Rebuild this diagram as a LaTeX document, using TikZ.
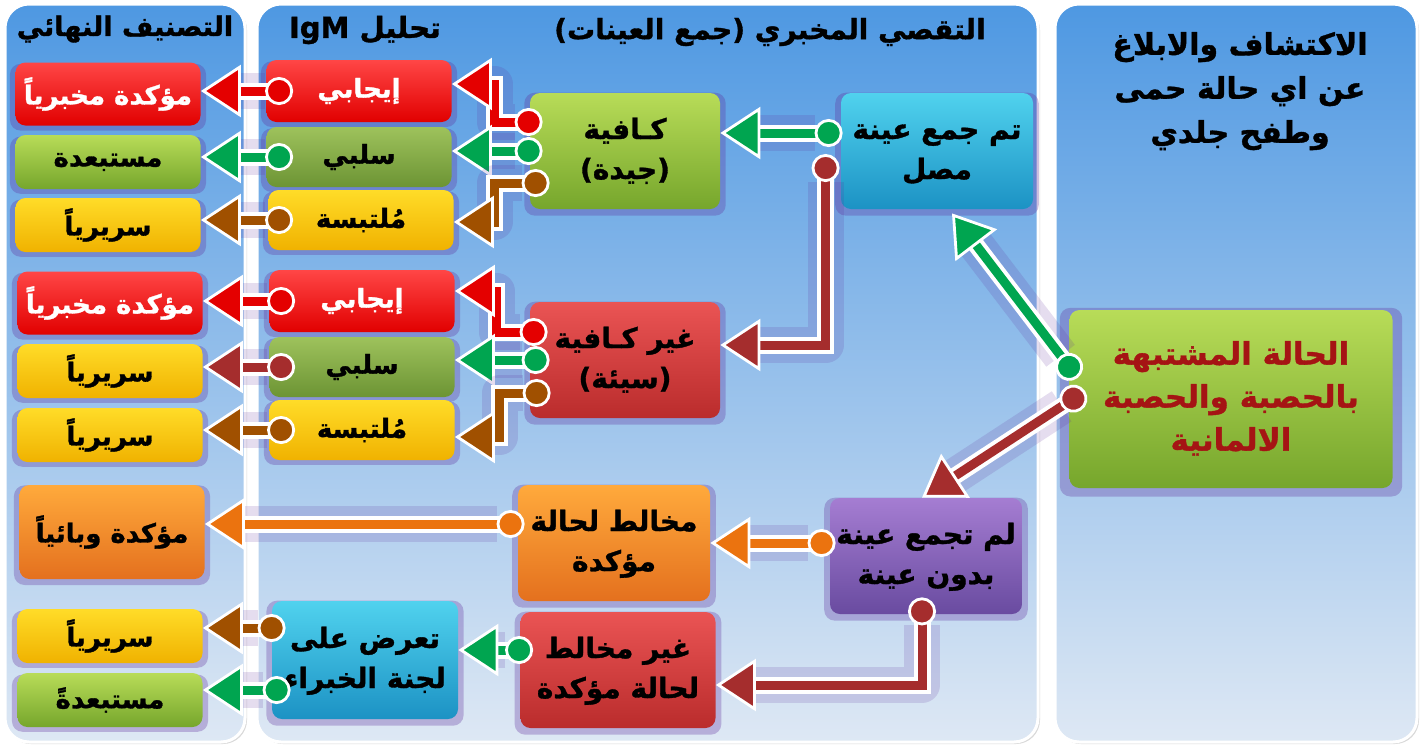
\documentclass[tikz,border=0pt]{standalone}
\usepackage{fontspec}
\usetikzlibrary{arrows.meta,shadows,calc}
\newfontfamily\arfont[Script=Arabic, BoldFeatures={FakeBold=1.2}]{DejaVu Sans}
\TeXXeTstate=1
\newcommand\ar[1]{\leavevmode\hbox{\beginR #1\endR}}
\newcommand\arlines[1]{\begin{tabular}{@{}c@{}}#1\end{tabular}}

\definecolor{panelTop}{RGB}{78,152,226}
\definecolor{panelBot}{RGB}{222,232,244}
\definecolor{glow}{RGB}{95,45,155}
\definecolor{redTop}{RGB}{255,70,70}
\definecolor{redBot}{RGB}{225,0,0}
\definecolor{grnTop}{RGB}{184,220,88}
\definecolor{grnBot}{RGB}{118,166,44}
\definecolor{olvTop}{RGB}{158,194,92}
\definecolor{olvBot}{RGB}{108,148,52}
\definecolor{ylwTop}{RGB}{255,220,40}
\definecolor{ylwBot}{RGB}{240,178,0}
\definecolor{orgTop}{RGB}{255,170,60}
\definecolor{orgBot}{RGB}{228,112,30}
\definecolor{cynTop}{RGB}{80,210,238}
\definecolor{cynBot}{RGB}{28,146,196}
\definecolor{prpTop}{RGB}{165,125,210}
\definecolor{prpBot}{RGB}{105,75,160}
\definecolor{dkrTop}{RGB}{234,84,84}
\definecolor{dkrBot}{RGB}{186,44,44}
\definecolor{lnRed}{RGB}{228,0,0}
\definecolor{lnGreen}{RGB}{0,165,80}
\definecolor{lnBrown}{RGB}{160,80,0}
\definecolor{lnMaroon}{RGB}{165,45,45}
\definecolor{lnOrange}{RGB}{235,115,15}
\definecolor{txtRed}{RGB}{165,20,20}

\begin{document}
\begin{tikzpicture}[x=0.5pt, y=-0.5pt,
    panel/.style={rounded corners=12pt, draw=white, line width=1.5pt, top color=panelTop, bottom color=panelBot, drop shadow={shadow xshift=1pt, shadow yshift=-1pt, opacity=.3}},
    title/.style={font=\arfont\bfseries\fontsize{14.5}{21}\selectfont},
    box/.style={rounded corners=5pt, inner sep=1pt, font=\arfont\bfseries\fontsize{13}{16}\selectfont, drop shadow={shadow xshift=0pt, shadow yshift=-1.5pt, shadow scale=1.06, fill=glow, opacity=.3}},
    cell/.style={box, minimum width=92.5pt, minimum height=27pt},
    block/.style={box, minimum width=95pt, minimum height=58pt, font=\arfont\bfseries\fontsize{14}{20}\selectfont},
    red fill/.style={top color=redTop, bottom color=redBot, text=white},
    green fill/.style={top color=grnTop, bottom color=grnBot},
    olive fill/.style={top color=olvTop, bottom color=olvBot},
    yellow fill/.style={top color=ylwTop, bottom color=ylwBot},
    orange fill/.style={top color=orgTop, bottom color=orgBot},
    cyan fill/.style={top color=cynTop, bottom color=cynBot},
    purple fill/.style={top color=prpTop, bottom color=prpBot},
    dark fill/.style={top color=dkrTop, bottom color=dkrBot},
    link/.style={draw=#1, line width=4.5pt,
        {Circle[length=14pt, fill=#1, color=white, line width=1.4pt]}-{Triangle[length=20pt, width=26pt, fill=#1, color=white, line width=1.4pt]},
        preaction={draw=glow, opacity=.16, line width=18pt, line join=round, shorten <=14pt, shorten >=18pt, -},
        preaction={draw=white, line width=8.5pt, shorten <=6pt, shorten >=9pt, -}}
  ]
    \useasboundingbox (0,0) rectangle (1421,745);

    \draw[panel] (5,4) rectangle (245,742);
    \draw[panel] (257,4) rectangle (1038,742);
    \draw[panel] (1055,4) rectangle (1417,742);

    \node[title, font=\arfont\bfseries\fontsize{13.5}{20}\selectfont] (tFinal) at (125,29) {\ar{التصنيف النهائي}};
    \node[title] (tIgM) at (365,30) {\ar{تحليل \beginL IgM\endL}};
    \node[title, font=\arfont\bfseries\fontsize{14}{20}\selectfont] (tLab) at (770,32) {\ar{التقصي المخبري (جمع العينات)}};
    \node[title, font=\arfont\bfseries\fontsize{15}{22}\selectfont] (tDetect) at (1240,90)
        {\arlines{\ar{الاكتشاف والابلاغ}\\\ar{عن اي حالة حمى}\\\ar{وطفح جلدي}}};

    % final classification
    \node[cell, red fill, minimum height=31.5pt] (F1) at (108,94) {\ar{مؤكدة مخبرياً}};
    \node[cell, green fill] (F2) at (108,162) {\ar{مستبعدة}};
    \node[cell, yellow fill] (F3) at (108,225) {\ar{سريرياً}};
    \node[cell, red fill, minimum height=31.5pt] (F4) at (110,303) {\ar{مؤكدة مخبرياً}};
    \node[cell, yellow fill] (F5) at (110,371) {\ar{سريرياً}};
    \node[cell, yellow fill] (F6) at (110,435) {\ar{سريرياً}};
    \node[cell, orange fill, minimum height=47pt] (F7) at (112,532) {\ar{مؤكدة وبائياً}};
    \node[cell, yellow fill] (F8) at (110,636) {\ar{سريرياً}};
    \node[cell, green fill] (F9) at (110,700) {\ar{مستبعدةً}};

    % IgM
    \node[cell, red fill, minimum height=31pt] (I1) at (359,91) {\ar{إيجابي}};
    \node[cell, olive fill, minimum height=30pt] (I2) at (359,157) {\ar{سلبي}};
    \node[cell, yellow fill, minimum height=30pt] (I3) at (361,220) {\ar{مُلتبسة}};
    \node[cell, red fill, minimum height=31pt] (I4) at (362,301) {\ar{إيجابي}};
    \node[cell, olive fill, minimum height=30pt] (I5) at (362,367) {\ar{سلبي}};
    \node[cell, yellow fill, minimum height=30pt] (I6) at (362,430) {\ar{مُلتبسة}};
    \node[block, cyan fill, minimum width=93pt, minimum height=59pt] (E1) at (365,660) {\arlines{\ar{تعرض على}\\\ar{لجنة الخبراء}}};

    % samples
    \node[block, green fill] (S1) at (625,151) {\arlines{\ar{كـافية}\\\ar{(جيدة)}}};
    \node[block, dark fill] (S2) at (625,360) {\arlines{\ar{غير كـافية}\\\ar{(سيئة)}}};
    \node[block, orange fill, minimum width=96pt] (C1) at (614,543) {\arlines{\ar{مخالط لحالة}\\\ar{مؤكدة}}};
    \node[block, dark fill, minimum width=97.5pt] (C2) at (618,670) {\arlines{\ar{غير مخالط}\\\ar{لحالة مؤكدة}}};
    \node[block, cyan fill, minimum width=96pt] (T1) at (937,151) {\arlines{\ar{تم جمع عينة}\\\ar{مصل}}};
    \node[block, purple fill, minimum width=96pt] (T2) at (926,556) {\arlines{\ar{لم تجمع عينة}\\\ar{بدون عينة}}};

    \node[box, green fill, text=txtRed, minimum width=161.5pt, minimum height=89pt, font=\arfont\bfseries\fontsize{15.5}{21.5}\selectfont] (R) at (1231,399)
        {\arlines{\ar{الحالة المشتبهة}\\\ar{بالحصبة والحصبة}\\\ar{الالمانية}}};

    % connectors
    \draw[link=lnGreen] ([xshift=4.25pt,yshift=10.5pt]R.west) -- ([xshift=7.5pt,yshift=-2pt]T1.south);
    \draw[link=lnMaroon] ([xshift=8pt,yshift=4pt]R.west) -- ([xshift=-2pt]T2.north);

    \draw[link=lnGreen] ([xshift=1pt,yshift=9pt]T1.west) -- ([yshift=9pt]S1.east);
    \draw[link=lnMaroon] ([xshift=-7.5pt,yshift=-1.5pt]T1.west) |- ([yshift=7.5pt]S2.east);

    \draw[link=lnRed] ([xshift=6.5pt,yshift=14.5pt]S1.west) -- ++(-24pt,0) |- ([yshift=3.5pt]I1.east);
    \draw[link=lnGreen] ([xshift=6.5pt]S1.west) -- (I2.east |- S1.west);
    \draw[link=lnBrown] ([xshift=10pt,yshift=-16pt]S1.west) -- ++(-27.5pt,0) |- ([yshift=-1pt]I3.east);

    \draw[link=lnRed] ([xshift=9pt,yshift=14pt]S2.west) -- ++(-25.5pt,0) |- ([yshift=5pt]I4.east);
    \draw[link=lnGreen] ([xshift=10pt]S2.west) -- (I5.east |- S2.west);
    \draw[link=lnBrown] ([xshift=10.5pt,yshift=-16.5pt]S2.west) -- ++(-25.5pt,0) |- ([yshift=-3.5pt]I6.east);

    \draw[link=lnRed] ([xshift=13.5pt]I1.west) -- (F1.east |- I1.west);
    \draw[link=lnGreen] ([xshift=13.5pt]I2.west) -- (F2.east |- I2.west);
    \draw[link=lnBrown] ([xshift=12.5pt]I3.west) -- (F3.east |- I3.west);
    \draw[link=lnRed] ([xshift=13pt]I4.west) -- (F4.east |- I4.west);
    \draw[link=lnMaroon] ([xshift=13pt]I5.west) -- (F5.east |- I5.west);
    \draw[link=lnBrown] ([xshift=13pt]I6.west) -- (F6.east |- I6.west);

    \draw[link=lnOrange] ([xshift=3pt,yshift=6.5pt]T2.west) -- (C1.east);
    \coordinate (c1out) at ([xshift=3.5pt,yshift=9.5pt]C1.west);
    \draw[link=lnOrange] (c1out) -- (F7.east |- c1out);
    \draw[link=lnMaroon] ([xshift=-2pt,yshift=8.5pt]T2.south) |- ([yshift=-7.5pt]C2.east);

    \coordinate (c2out) at ([xshift=6.5pt,yshift=10pt]C2.west);
    \draw[link=lnGreen] (c2out) -- (E1.east |- c2out);
    \coordinate (e1up) at ([xshift=7pt,yshift=16pt]E1.west);
    \coordinate (e1dn) at ([xshift=9.5pt,yshift=-15pt]E1.west);
    \draw[link=lnBrown] (e1up) -- (F8.east |- e1up);
    \draw[link=lnGreen] (e1dn) -- (F9.east |- e1dn);
\end{tikzpicture}
\end{document}
